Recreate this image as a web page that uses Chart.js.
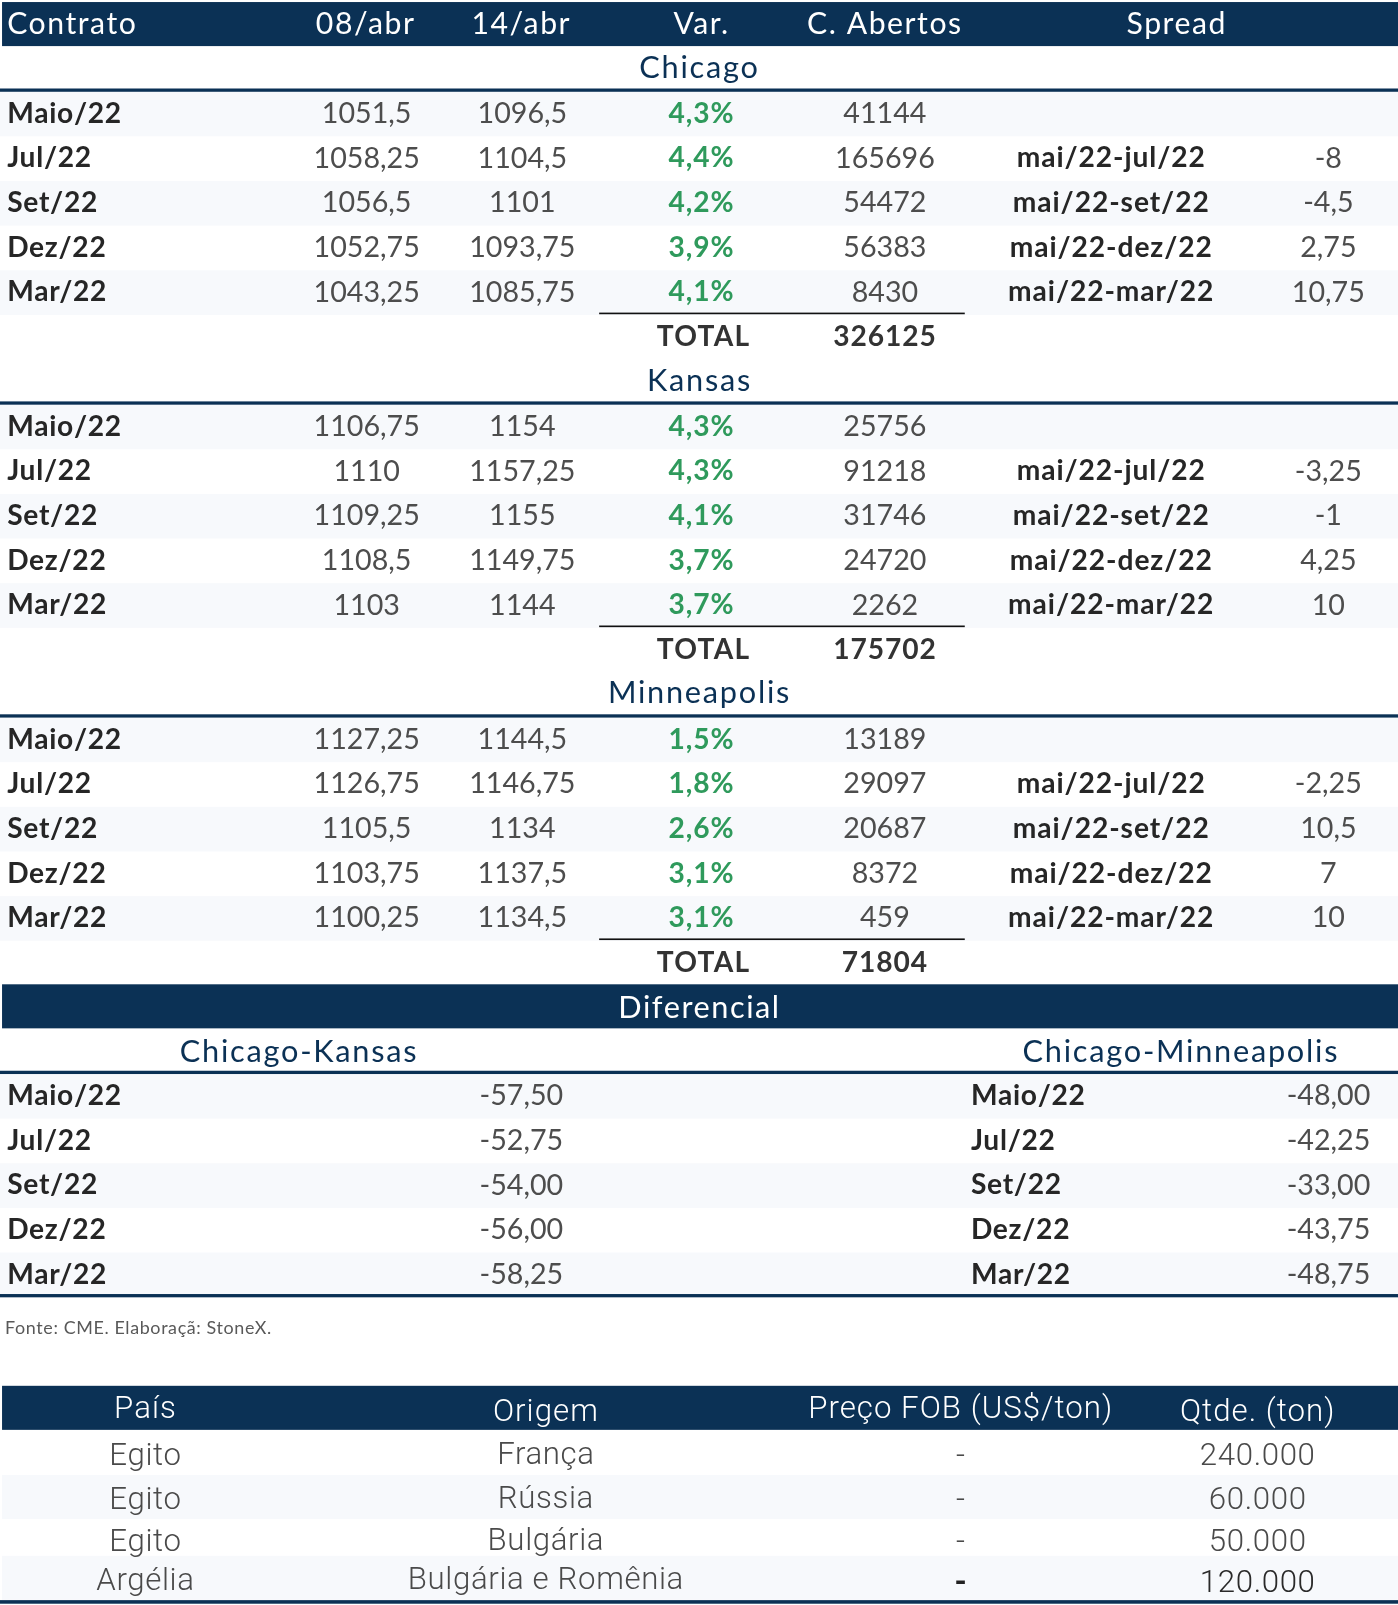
<!DOCTYPE html>
<html>
<head>
<meta charset="utf-8">
<script src="https://cdn.jsdelivr.net/npm/chart.js@4.4.1/dist/chart.umd.min.js"></script>
<style>
  html, body { margin: 0; padding: 0; background: #fff; }
  canvas { display: block; }
</style>
</head>
<body>
<canvas id="tabela" width="1398" height="1605"></canvas>
<script>
// dados
const cabecalho = ["Contrato", "08/abr", "14/abr", "Var.", "C. Abertos", "Spread"];
const pracas = ["Chicago", "Kansas", "Minneapolis"];
const contratos = ["Maio/22", "Jul/22", "Set/22", "Dez/22", "Mar/22"];
const spreadNomes = ["", "mai/22-jul/22", "mai/22-set/22", "mai/22-dez/22", "mai/22-mar/22"];

const chicago08abr = [1051.5, 1058.25, 1056.5, 1052.75, 1043.25];
const chicago14abr = [1096.5, 1104.5, 1101, 1093.75, 1085.75];
const chicagoVar = [4.3, 4.4, 4.2, 3.9, 4.1];
const chicagoAbertos = [41144, 165696, 54472, 56383, 8430];
const chicagoTotal = 326125;
const chicagoSpread = [null, -8, -4.5, 2.75, 10.75];

const kansas08abr = [1106.75, 1110, 1109.25, 1108.5, 1103];
const kansas14abr = [1154, 1157.25, 1155, 1149.75, 1144];
const kansasVar = [4.3, 4.3, 4.1, 3.7, 3.7];
const kansasAbertos = [25756, 91218, 31746, 24720, 2262];
const kansasTotal = 175702;
const kansasSpread = [null, -3.25, -1, 4.25, 10];

const minneapolis08abr = [1127.25, 1126.75, 1105.5, 1103.75, 1100.25];
const minneapolis14abr = [1144.5, 1146.75, 1134, 1137.5, 1134.5];
const minneapolisVar = [1.5, 1.8, 2.6, 3.1, 3.1];
const minneapolisAbertos = [13189, 29097, 20687, 8372, 459];
const minneapolisTotal = 71804;
const minneapolisSpread = [null, -2.25, 10.5, 7, 10];

const diferencialTitulo = "Diferencial";
const diferencialPares = ["Chicago-Kansas", "Chicago-Minneapolis"];
const chicagoKansas = [-57.5, -52.75, -54, -56, -58.25];
const chicagoMinneapolis = [-48, -42.25, -33, -43.75, -48.75];

const fonte = "Fonte: CME. Elaboraçã: StoneX.";

const cabecalhoEmbarques = ["País", "Origem", "Preço FOB (US$/ton)", "Qtde. (ton)"];
const paises = ["Egito", "Egito", "Egito", "Argélia"];
const origens = ["França", "Rússia", "Bulgária", "Bulgária e Romênia"];
const precosFob = [null, null, null, null];
const quantidades = [240000, 60000, 50000, 120000];

const blocos = [
  { abr08: chicago08abr, abr14: chicago14abr, varia: chicagoVar, abertos: chicagoAbertos, total: chicagoTotal, spread: chicagoSpread },
  { abr08: kansas08abr, abr14: kansas14abr, varia: kansasVar, abertos: kansasAbertos, total: kansasTotal, spread: kansasSpread },
  { abr08: minneapolis08abr, abr14: minneapolis14abr, varia: minneapolisVar, abertos: minneapolisAbertos, total: minneapolisTotal, spread: minneapolisSpread },
];

// formatos
const virgula = v => String(v).replace(".", ",");
const pct = v => v.toFixed(1).replace(".", ",") + "%";
const duasCasas = v => v.toFixed(2).replace(".", ",");
const milhar = v => v.toLocaleString("de-DE");

// layout (unidades da figura)
const LARG = 1365, ALT = 1567;
const AZUL = "#0b3155", VERDE = "#2f9a5c", FAIXA = "#f7f9fc";
const COR_ROT = "#262626", COR_DADO = "#4d4d4d";
const FONTE = "Lato, 'Noto Sans', sans-serif";
const colCab = [7, 357, 509, 685, 864, 1149];
const col = { rot: 7, d1: 358, d2: 510, varia: 685, oi: 864, nome: 1085, spread: 1297 };
const PASSO = 43.6;

const desenhoTabela = {
  id: "desenhoTabela",
  afterDraw(chart) {
    const { ctx, scales: { x, y } } = chart;
    const k = chart.chartArea.width / LARG;
    const X = v => x.getPixelForValue(v);
    const Y = v => y.getPixelForValue(v);

    function texto(t, cx, cy, o) {
      o = o || {};
      const tam = (o.tam || 28) * k;
      ctx.save();
      ctx.font = (o.peso || "400") + " " + tam + "px " + (o.familia || FONTE);
      ctx.fillStyle = o.cor || COR_DADO;
      ctx.letterSpacing = ((o.esp || 0) * k) + "px";
      ctx.textAlign = o.alinha || "center";
      ctx.textBaseline = "alphabetic";
      ctx.fillText(t, X(cx), Y(cy) + tam * 0.36);
      ctx.restore();
    }
    function faixa(x0, y0, x1, y1, cor) {
      ctx.fillStyle = cor;
      ctx.fillRect(X(x0), Y(y0), X(x1) - X(x0), Y(y1) - Y(y0));
    }
    function linha(x0, x1, yy, w, cor) {
      ctx.fillStyle = cor;
      ctx.fillRect(X(x0), Y(yy) - w * k / 2, X(x1) - X(x0), w * k);
    }

    const sub = { tam: 30, cor: AZUL, esp: 1.7 };

    // cabecalho
    faixa(2, 2, LARG, 45, AZUL);
    cabecalho.forEach((t, i) => texto(t, colCab[i], 23, {
      tam: 29.5, cor: "#fff", esp: 1.5, alinha: i === 0 ? "left" : "center"
    }));

    // blocos por praca
    blocos.forEach((b, bi) => {
      const topo = 45 + bi * 305.5;
      const lin = topo + 43;
      texto(pracas[bi], 683, topo + 20, sub);
      contratos.forEach((c, i) => {
        if (i % 2 === 0) faixa(0, lin + 1.5 + i * PASSO, LARG, lin + 1.5 + (i + 1) * PASSO, FAIXA);
      });
      linha(0, LARG, lin, 3.2, AZUL);
      contratos.forEach((c, i) => {
        const cy = lin + 22 + i * PASSO;
        texto(c, col.rot, cy, { peso: "700", cor: COR_ROT, alinha: "left", esp: 0.7, tam: 27.5 });
        texto(virgula(b.abr08[i]), col.d1, cy);
        texto(virgula(b.abr14[i]), col.d2, cy);
        texto(pct(b.varia[i]), col.varia, cy, { peso: "700", cor: VERDE, esp: 0.9, tam: 27.5 });
        texto(String(b.abertos[i]), col.oi, cy);
        if (b.spread[i] !== null) {
          texto(spreadNomes[i], col.nome, cy, { peso: "700", cor: COR_ROT, esp: 0.9, tam: 27.5 });
          texto(virgula(b.spread[i]), col.spread, cy);
        }
      });
      linha(585, 942, lin + 218, 1.6, "#111");
      texto("TOTAL", 687, lin + 240, { peso: "700", cor: "#333", esp: 1.2, tam: 27.5 });
      texto(String(b.total), 864, lin + 240, { peso: "700", cor: "#333", esp: 0.9, tam: 27.5 });
    });

    // diferencial
    faixa(2, 961, LARG, 1004, AZUL);
    texto(diferencialTitulo, 683, 983, { tam: 30, cor: "#fff", esp: 1.5 });
    texto(diferencialPares[0], 292, 1026, sub);
    texto(diferencialPares[1], 1153, 1026, sub);
    const linDif = 1047;
    contratos.forEach((c, i) => {
      if (i % 2 === 0) faixa(0, linDif + 1.5 + i * PASSO, LARG, linDif + 1.5 + (i + 1) * PASSO, FAIXA);
    });
    linha(0, LARG, linDif, 3.2, AZUL);
    contratos.forEach((c, i) => {
      const cy = linDif + 22 + i * PASSO;
      texto(c, col.rot, cy, { peso: "700", cor: COR_ROT, alinha: "left", esp: 0.7, tam: 27.5 });
      texto(duasCasas(chicagoKansas[i]), 509, cy);
      texto(c, 948, cy, { peso: "700", cor: COR_ROT, alinha: "left", esp: 0.7, tam: 27.5 });
      texto(duasCasas(chicagoMinneapolis[i]), 1338, cy, { alinha: "right" });
    });
    linha(0, LARG, linDif + 218, 3.2, AZUL);

    texto(fonte, 5, 1296, { tam: 17.5, cor: "#595959", alinha: "left", esp: 0.6 });

    // embarques
    const F2 = "Roboto, 'Liberation Sans', sans-serif";
    faixa(2, 1353, LARG, 1396, AZUL);
    const colEmb = [142, 533, 938, 1228];
    const yCab = [1373, 1376, 1373, 1376];
    const emb = { tam: 30.5, cor: "#4a4a4a", familia: F2, peso: "300", esp: 0.6 };
    cabecalhoEmbarques.forEach((t, i) => texto(t, colEmb[i], yCab[i], {
      tam: 30.5, cor: "#fff", familia: F2, peso: "300", esp: 1
    }));
    const limites = [1396, 1440, 1483, 1519, 1562];
    const yLin = [1419, 1462, 1503, 1541];
    paises.forEach((p, i) => {
      if (i % 2 === 1) faixa(2, limites[i], LARG, limites[i + 1], FAIXA);
    });
    paises.forEach((p, i) => {
      const ult = i === paises.length - 1;
      texto(p, colEmb[0], yLin[i], emb);
      texto(origens[i], colEmb[1], yLin[i] - 1, emb);
      texto(precosFob[i] === null ? "-" : String(precosFob[i]), colEmb[2], yLin[i] + (ult ? 2 : 0),
        ult ? { tam: 30.5, cor: "#222", familia: F2, peso: "700" } : emb);
      texto(milhar(quantidades[i]), colEmb[3], yLin[i] + (ult ? 2 : 0),
        ult ? Object.assign({}, emb, { cor: "#2a2a2a" }) : emb);
    });
    linha(0, LARG, 1564, 3.5, AZUL);
  }
};

new Chart(document.getElementById("tabela"), {
  type: "scatter",
  data: { datasets: [{ data: [], pointRadius: 0 }] },
  options: {
    responsive: false,
    animation: false,
    devicePixelRatio: 1,
    layout: { padding: 0 },
    plugins: { legend: { display: false }, tooltip: { enabled: false } },
    scales: {
      x: { type: "linear", min: 0, max: LARG, display: false },
      y: { type: "linear", min: 0, max: ALT, reverse: true, display: false }
    }
  },
  plugins: [desenhoTabela]
});
</script>
</body>
</html>
